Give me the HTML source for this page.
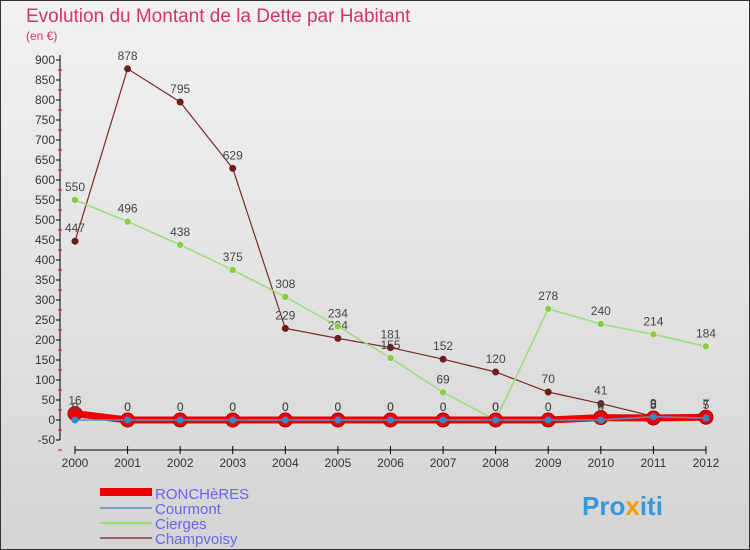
<!DOCTYPE html>
<html><head><meta charset="utf-8"><style>
body{margin:0;width:750px;height:550px;overflow:hidden}
svg{display:block;font-family:"Liberation Sans",sans-serif}
</style></head><body>
<svg id="c" width="750" height="550">
<defs><linearGradient id="bg" x1="0" y1="0" x2="0" y2="1"><stop offset="0" stop-color="#f2f2f2"/><stop offset="1" stop-color="#d4d4d4"/></linearGradient></defs>
<rect x="0.5" y="0.5" width="749" height="549" fill="url(#bg)" stroke="#333"/>
<text x="26" y="22" font-size="19" fill="#d6336c">Evolution du Montant de la Dette par Habitant</text>
<text x="26" y="40" font-size="12" fill="#d6336c">(en €)</text>
<g id="axes"></g><g id="series"></g>
<g>
<rect x="100" y="488" width="52" height="8" fill="#e00"/>
<text x="155" y="499" font-size="15" fill="#6666ee">RONCHèRES</text>
<line x1="100" y1="508" x2="152" y2="508" stroke="#6fa6c8" stroke-width="2"/>
<text x="155" y="514" font-size="15" fill="#6666ee">Courmont</text>
<line x1="100" y1="523" x2="152" y2="523" stroke="#99dd77" stroke-width="2"/>
<text x="155" y="529" font-size="15" fill="#6666ee">Cierges</text>
<line x1="100" y1="538" x2="152" y2="538" stroke="#996666" stroke-width="2"/>
<text x="155" y="544" font-size="15" fill="#6666ee">Champvoisy</text>
</g>
<text x="582" y="515" font-size="26" font-weight="bold" fill="#3399dd">Pro<tspan fill="#ff9900">x</tspan>iti</text>
</svg>
<script>
const years=[2000,2001,2002,2003,2004,2005,2006,2007,2008,2009,2010,2011,2012];
const yTicks=[-50,0,50,100,150,200,250,300,350,400,450,500,550,600,650,700,750,800,850,900];
const roncheres=[16,0,0,0,0,0,0,0,0,0,6,5,7];
const courmont=[0,0,0,0,0,0,0,0,0,0,0,8,5];
const cierges=[550,496,438,375,308,234,155,69,0,278,240,214,184];
const champvoisy=[447,878,795,629,229,204,181,152,120,70,41,9,7];
const NS="http://www.w3.org/2000/svg";
const xS=i=>75+i*52.58, yS=v=>420-v*0.4;
function mk(t,a,p){const e=document.createElementNS(NS,t);for(const k in a)e.setAttribute(k,a[k]);p.appendChild(e);return e;}
const ax=document.getElementById('axes'), sr=document.getElementById('series');
const yl=mk('line',{x1:60,y1:yS(900)-5,x2:60,y2:yS(-50),stroke:'#000'},ax);


yTicks.forEach(v=>{
 mk('line',{x1:56,x2:60,y1:yS(v),y2:yS(v),stroke:'#000'},ax);
 mk('line',{x1:58,x2:62,y1:yS(v)+10,y2:yS(v)+10,stroke:'#e00'},ax);
 const t=mk('text',{x:55,y:yS(v)+4,'font-size':12,'text-anchor':'end',fill:'#333'},ax);t.textContent=v;
 
 
});
const xl=mk('line',{x1:xS(0),y1:450,x2:xS(12),y2:450,stroke:'#000'},ax);


years.forEach((y,i)=>{
 mk('line',{x1:xS(i),x2:xS(i),y1:446,y2:454,stroke:'#000'},ax);
 const t=mk('text',{x:xS(i),y:467,'font-size':12,'text-anchor':'middle',fill:'#333'},ax);t.textContent=y;
 
 
});
function series(name,data,color,w,r,fill,stroke,sw){
 const g=mk('g',{},sr);
 
 
 const pl=mk('polyline',{points:data.map((v,i)=>xS(i)+','+yS(v)).join(' '),fill:'none',stroke:color,'stroke-width':w},g);
 
 
 data.forEach((v,i)=>{
  const c=mk('circle',{cx:xS(i),cy:yS(v),r:r,fill:fill,stroke:stroke,'stroke-width':sw},g);
  
  
  const t=mk('text',{x:xS(i),y:yS(v)-9,'font-size':12,'text-anchor':'middle',fill:'#444'},g);t.textContent=v;
  
  
 });
}
series('champvoisy',champvoisy,'#7a2a2a',1.2,3.5,'#6b1e1e','none',0);
series('cierges',cierges,'#99dd77',1.5,3.5,'#88cc44','#fff',0.5);
series('roncheres',roncheres,'#ee0000',7,7,'#ee0000','#aa0000',1);
series('courmont',courmont,'#4f95c8',1.5,3.5,'#3a88c8','none',0);
</script>
</body></html>
